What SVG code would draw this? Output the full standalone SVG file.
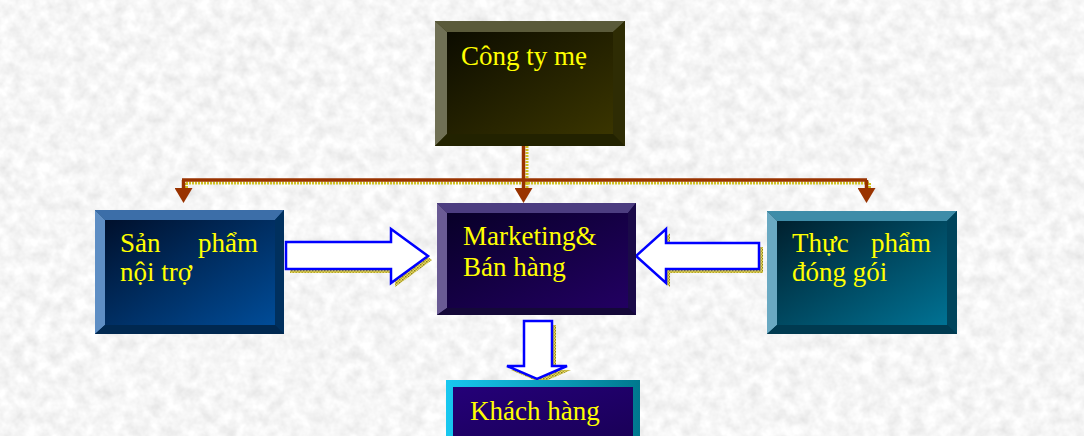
<svg xmlns="http://www.w3.org/2000/svg" width="1084" height="436" viewBox="0 0 1084 436">
<style>
.lbl{font-family:"Liberation Serif","Times New Roman",serif;font-size:27px;fill:#ffff00}
.conn{fill:none;stroke:#993300;stroke-width:3.5}
.connsh{fill:none;stroke:#d0c020;stroke-width:3;stroke-dasharray:2 1}
.blk{fill:#ffffff;stroke:#0000ff;stroke-width:2.5;stroke-linejoin:miter}
.blksh{fill:url(#dots)}
</style>
<defs>
<filter id="stone" x="0" y="0" width="1084" height="436" filterUnits="userSpaceOnUse">
<feTurbulence type="fractalNoise" baseFrequency="0.08" numOctaves="3" seed="7"/>
<feColorMatrix type="matrix" values="0.32 0 0 0 0.76  0.32 0 0 0 0.76  0.32 0 0 0 0.76  0 0 0 0 1"/>
</filter>
<pattern id="dots" width="3" height="3" patternUnits="userSpaceOnUse">
<rect width="3" height="3" fill="#e8dc60"/>
<rect width="1.5" height="1.5" fill="#8a8020"/>
<rect x="1.5" y="1.5" width="1.5" height="1.5" fill="#b0a030"/>
</pattern>
<marker id="ah" viewBox="0 0 15 18" refX="0" refY="9" markerWidth="15" markerHeight="18" markerUnits="userSpaceOnUse" orient="auto">
<path d="M0,0 L15,9 L0,18 Z" fill="#993300"/>
</marker>
<linearGradient id="gOlive" x1="0" y1="0" x2="1" y2="1"><stop offset="0" stop-color="#0c0c00"/><stop offset="1" stop-color="#3a3500"/></linearGradient>
<linearGradient id="gBlue" x1="0" y1="0" x2="1" y2="1"><stop offset="0" stop-color="#00102c"/><stop offset="1" stop-color="#004c98"/></linearGradient>
<linearGradient id="gPurple" x1="0" y1="0" x2="1" y2="1"><stop offset="0" stop-color="#080028"/><stop offset="1" stop-color="#220062"/></linearGradient>
<linearGradient id="gTeal" x1="0" y1="0" x2="1" y2="1"><stop offset="0" stop-color="#00202e"/><stop offset="1" stop-color="#007294"/></linearGradient>
<linearGradient id="gCyan" x1="0" y1="0" x2="1" y2="0"><stop offset="0" stop-color="#18c8f0"/><stop offset="1" stop-color="#00788e"/></linearGradient>
<linearGradient id="gKh" x1="0" y1="0" x2="1" y2="1"><stop offset="0" stop-color="#240078"/><stop offset="1" stop-color="#1a0058"/></linearGradient>
</defs>
<rect width="1084" height="436" fill="#ffffff"/>
<rect x="8" y="5" width="1076" height="431" fill="#e8e8e8" filter="url(#stone)"/>

<g id="connectors">
<path class="connsh" d="M527,146 V183 M186,183 H869 M186.5,183 V191 M527,183 V191 M869.5,183 V191"/>
<path class="conn" d="M523.5,146 V180 M182,180 H867"/>
<path class="conn" d="M183.5,180 V188" marker-end="url(#ah)"/>
<path class="conn" d="M523.5,180 V188" marker-end="url(#ah)"/>
<path class="conn" d="M866.5,180 V188" marker-end="url(#ah)"/>
<path class="blksh" d="M290,246 L395,246 L395,233 L432,260 L395,287 L395,273 L290,273 Z"/>
<path class="blk" d="M286,242 L391,242 L391,229 L428,256 L391,283 L391,269 L286,269 Z"/>
<path class="blksh" d="M763,247 L670,247 L670,233 L640,260 L670,287 L670,273 L763,273 Z"/>
<path class="blk" d="M759,243 L666,243 L666,229 L636,256 L666,283 L666,269 L759,269 Z"/>
<path class="blksh" d="M528,325 L556,325 L556,370 L571,370 L541,383 L511,370 L528,370 Z"/>
<path class="blk" d="M524,321 L552,321 L552,366 L567,366 L537,379 L507,366 L524,366 Z"/>
</g>

<g id="cong-ty-me">
<rect x="435" y="21" width="190" height="125" fill="#2a2800"/>
<polygon points="435,21 625,21 613,32 447,32" fill="#5a5a3a"/>
<polygon points="435,21 447,32 447,134 435,146" fill="#707055"/>
<polygon points="625,21 625,146 613,134 613,32" fill="#2e2c04"/>
<polygon points="435,146 625,146 613,134 447,134" fill="#222200"/>
<rect x="447" y="32" width="166" height="102" fill="url(#gOlive)"/>
<text class="lbl" x="461" y="65">Công ty mẹ</text>
</g>

<g id="san-pham-noi-tro">
<rect x="95" y="210" width="189" height="124" fill="#002a55"/>
<polygon points="95,210 284,210 275,220 105,220" fill="#3c6ea8"/>
<polygon points="95,210 105,220 105,325 95,334" fill="#5e8ec4"/>
<polygon points="284,210 284,334 275,325 275,220" fill="#00305e"/>
<polygon points="95,334 284,334 275,325 105,325" fill="#002850"/>
<rect x="105" y="220" width="170" height="105" fill="url(#gBlue)"/>
<text class="lbl" x="120" y="252">Sản</text>
<text class="lbl" x="258" y="252" text-anchor="end">phẩm</text>
<text class="lbl" x="120" y="281">nội trợ</text>
</g>

<g id="marketing-ban-hang">
<rect x="437" y="203" width="199" height="112" fill="#150840"/>
<polygon points="437,203 636,203 628,213 447,213" fill="#4c3d80"/>
<polygon points="437,203 447,213 447,308 437,315" fill="#6a5b94"/>
<polygon points="636,203 636,315 628,308 628,213" fill="#1a0a48"/>
<polygon points="437,315 636,315 628,308 447,308" fill="#140838"/>
<rect x="447" y="213" width="181" height="95" fill="url(#gPurple)"/>
<text class="lbl" x="463" y="245">Marketing&amp;</text>
<text class="lbl" x="463" y="276">Bán hàng</text>
</g>

<g id="thuc-pham-dong-goi">
<rect x="767" y="211" width="190" height="123" fill="#003a50"/>
<polygon points="767,211 957,211 947,221 777,221" fill="#3e8ca8"/>
<polygon points="767,211 777,221 777,325 767,334" fill="#6aa9c2"/>
<polygon points="957,211 957,334 947,325 947,221" fill="#00445c"/>
<polygon points="767,334 957,334 947,325 777,325" fill="#003a50"/>
<rect x="777" y="221" width="170" height="104" fill="url(#gTeal)"/>
<text class="lbl" x="792" y="252">Thực</text>
<text class="lbl" x="931" y="252" text-anchor="end">phẩm</text>
<text class="lbl" x="792" y="281">đóng gói</text>
</g>

<g id="khach-hang">
<rect x="446" y="380" width="194" height="60" fill="url(#gCyan)"/>
<rect x="453" y="387" width="180" height="49" fill="url(#gKh)"/>
<text class="lbl" x="470" y="420">Khách hàng</text>
</g>
</svg>
